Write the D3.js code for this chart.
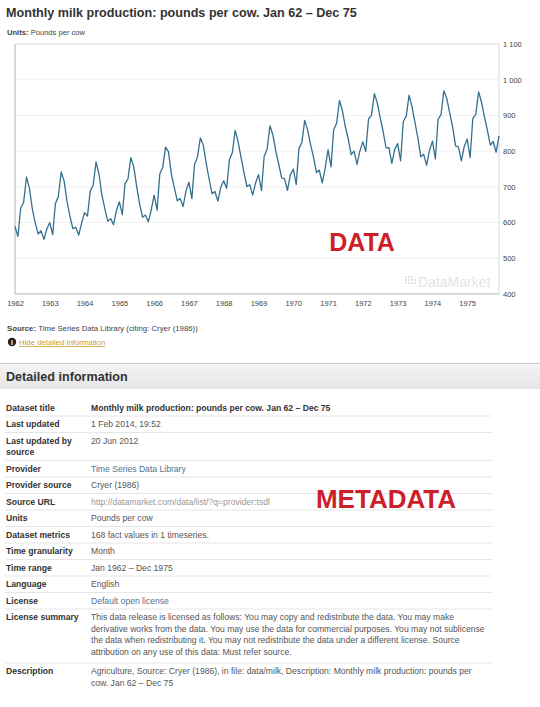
<!DOCTYPE html>
<html>
<head>
<meta charset="utf-8">
<script src="https://cdn.jsdelivr.net/npm/d3@7"></script>
<style>
  html, body { margin: 0; padding: 0; background: #fff; }
  svg { display: block; font-family: "Liberation Sans", Arial, sans-serif; }
</style>
</head>
<body>
<div id="chart"></div>
<script>
// monthly milk production, pounds per cow, Jan 1962 - Dec 1975
const years = d3.range(1962, 1976);
const milk = [
  589, 561, 640, 656, 727, 697, 640, 599, 568, 577, 553, 582,
  600, 566, 653, 673, 742, 716, 660, 617, 583, 587, 565, 598,
  628, 618, 688, 705, 770, 736, 678, 639, 604, 611, 594, 634,
  658, 622, 709, 722, 782, 756, 702, 653, 615, 621, 602, 635,
  677, 635, 736, 755, 811, 798, 735, 697, 661, 667, 645, 688,
  713, 667, 762, 784, 837, 817, 767, 722, 681, 687, 660, 698,
  717, 696, 775, 796, 858, 826, 783, 740, 701, 706, 677, 711,
  734, 690, 785, 805, 871, 845, 801, 764, 725, 723, 690, 734,
  750, 707, 807, 824, 886, 859, 819, 783, 740, 747, 711, 751,
  804, 756, 860, 878, 942, 913, 869, 834, 790, 800, 763, 800,
  826, 799, 890, 900, 961, 935, 894, 855, 809, 810, 766, 805,
  821, 773, 883, 898, 957, 924, 881, 837, 784, 791, 760, 802,
  828, 778, 889, 902, 969, 947, 908, 867, 815, 812, 773, 813,
  834, 782, 892, 903, 966, 937, 896, 858, 817, 827, 797, 843
];
const yTicks = [400, 500, 600, 700, 800, 900, 1000, 1100];

const titleText = 'Monthly milk production: pounds per cow. Jan 62 \u2013 Dec 75';
const sourceText = 'Time Series Data Library (citing: Cryer (1986))';

// metadata table: label lines, value lines, value style
const metaLabels = [
  ['Dataset title'], ['Last updated'], ['Last updated by', 'source'], ['Provider'],
  ['Provider source'], ['Source URL'], ['Units'], ['Dataset metrics'],
  ['Time granularity'], ['Time range'], ['Language'], ['License'],
  ['License summary'], ['Description']
];
const metaValues = [
  [titleText],
  ['1 Feb 2014, 19:52'],
  ['20 Jun 2012'],
  ['Time Series Data Library'],
  ['Cryer (1986)'],
  ['http://datamarket.com/data/list/?q=provider:tsdl'],
  ['Pounds per cow'],
  ['168 fact values in 1 timeseries.'],
  ['Month'],
  ['Jan 1962 \u2013 Dec 1975'],
  ['English'],
  ['Default open license'],
  ['This data release is licensed as follows: You may copy and redistribute the data. You may make',
   'derivative works from the data. You may use the data for commercial purposes. You may not sublicense',
   'the data when redistributing it. You may not redistribute the data under a different license. Source',
   'attribution on any use of this data: Must refer source.'],
  ['Agriculture, Source: Cryer (1986), in file: data/milk, Description: Monthly milk production: pounds per',
   'cow. Jan 62 \u2013 Dec 75']
];
const metaStyles = ['title', 'plain', 'plain', 'link', 'plain', 'url', 'plain', 'plain',
  'plain', 'plain', 'plain', 'link', 'plain', 'plain'];

const W = 540, H = 707;
const plot = { left: 15, right: 499, top: 44, bottom: 294 };

const svg = d3.select('#chart').append('svg')
  .attr('width', W)
  .attr('height', H);

const defs = svg.append('defs');
const grad = defs.append('linearGradient')
  .attr('id', 'hdr')
  .attr('x1', 0).attr('x2', 0).attr('y1', 0).attr('y2', 1);
grad.append('stop').attr('offset', '0%').attr('stop-color', '#f4f4f4');
grad.append('stop').attr('offset', '100%').attr('stop-color', '#e6e6e6');

// header texts
svg.append('text')
  .attr('x', 6).attr('y', 17)
  .attr('font-size', 12.6).attr('font-weight', 'bold').attr('fill', '#333')
  .text(titleText);

const units = svg.append('text')
  .attr('x', 7).attr('y', 35)
  .attr('font-size', 7.6).attr('fill', '#444');
units.append('tspan').attr('font-weight', 'bold').text('Units: ');
units.append('tspan').text('Pounds per cow');

// scales
const dates = milk.map((v, i) => new Date(1962, i, 1));
const x = d3.scaleTime()
  .domain(d3.extent(dates))
  .range([plot.left, plot.right]);
const y = d3.scaleLinear()
  .domain([400, 1100])
  .range([plot.bottom, plot.top]);

const fmt = d3.formatLocale({ decimal: '.', thousands: ' ', grouping: [3], currency: ['', ''] }).format(',');

// grid
svg.append('g')
  .selectAll('line')
  .data(yTicks.slice(1, -1))
  .join('line')
  .attr('x1', plot.left).attr('x2', plot.right)
  .attr('y1', d => y(d)).attr('y2', d => y(d))
  .attr('stroke', '#f1f1f1');

// frame
svg.append('rect')
  .attr('x', plot.left).attr('y', plot.top)
  .attr('width', plot.right - plot.left).attr('height', plot.bottom - plot.top)
  .attr('fill', 'none').attr('stroke', '#d8d8d8');
svg.append('line')
  .attr('x1', plot.left).attr('x2', plot.left)
  .attr('y1', plot.top).attr('y2', plot.bottom)
  .attr('stroke', '#c4c4c4');
svg.append('line')
  .attr('x1', plot.left).attr('x2', plot.right)
  .attr('y1', plot.bottom).attr('y2', plot.bottom)
  .attr('stroke', '#c4c4c4');

// watermark
const wm = svg.append('g').attr('fill', '#e4e4e4');
wm.append('text')
  .attr('x', 418).attr('y', 287)
  .attr('font-size', 14)
  .text('DataMarket');
[[405, 276], [408, 276], [411, 276], [405, 279], [408, 279], [411, 279], [414, 279],
 [405, 282], [408, 282], [411, 282], [414, 282]]
  .forEach(p => wm.append('rect').attr('x', p[0]).attr('y', p[1]).attr('width', 2).attr('height', 2));

// axes
const yAxis = d3.axisRight(y)
  .tickValues(yTicks)
  .tickSize(0)
  .tickPadding(4)
  .tickFormat(fmt);
svg.append('g')
  .attr('transform', `translate(${plot.right},0)`)
  .call(yAxis)
  .call(g => g.select('.domain').remove())
  .selectAll('text')
  .attr('font-size', 7.5)
  .attr('font-family', '"Liberation Sans", Arial, sans-serif')
  .attr('fill', '#444');

const xAxis = d3.axisBottom(x)
  .tickValues(years.map(yr => new Date(yr, 0, 1)))
  .tickSize(0)
  .tickPadding(7)
  .tickFormat(d3.timeFormat('%Y'));
svg.append('g')
  .attr('transform', `translate(0,${plot.bottom})`)
  .call(xAxis)
  .call(g => g.select('.domain').remove())
  .selectAll('text')
  .attr('font-size', 7.5)
  .attr('font-family', '"Liberation Sans", Arial, sans-serif')
  .attr('fill', '#444');

// series
const line = d3.line()
  .x((d, i) => x(dates[i]))
  .y(d => y(d));
svg.append('path')
  .datum(milk)
  .attr('d', line)
  .attr('fill', 'none')
  .attr('stroke', '#33708f')
  .attr('stroke-width', 1.3)
  .attr('stroke-linejoin', 'round');

svg.append('text')
  .attr('x', 362).attr('y', 251)
  .attr('text-anchor', 'middle')
  .attr('font-size', 25).attr('font-weight', 'bold').attr('fill', '#cc1f2a')
  .text('DATA');

// source + link
const src = svg.append('text')
  .attr('x', 7).attr('y', 331)
  .attr('font-size', 7.8).attr('fill', '#444');
src.append('tspan').attr('font-weight', 'bold').text('Source: ');
src.append('tspan').text(sourceText);

svg.append('circle').attr('cx', 12).attr('cy', 342).attr('r', 4.2).attr('fill', '#222');
svg.append('text')
  .attr('x', 12).attr('y', 345.2)
  .attr('text-anchor', 'middle')
  .attr('font-size', 7).attr('font-weight', 'bold').attr('fill', '#fff')
  .text('i');
svg.append('text')
  .attr('x', 19).attr('y', 345)
  .attr('font-size', 7.8).attr('fill', '#d09a30')
  .attr('text-decoration', 'underline')
  .text('Hide detailed information');

// detailed information header bar
svg.append('rect')
  .attr('x', 0).attr('y', 363)
  .attr('width', W).attr('height', 26)
  .attr('fill', 'url(#hdr)');
svg.append('line')
  .attr('x1', 0).attr('x2', W)
  .attr('y1', 363.5).attr('y2', 363.5)
  .attr('stroke', '#c8c8c8');
svg.append('text')
  .attr('x', 6).attr('y', 381)
  .attr('font-size', 12.6).attr('font-weight', 'bold').attr('fill', '#333')
  .text('Detailed information');

// metadata table
const lineH = 11.5;
const valueColor = { title: '#333', plain: '#555', link: '#4d7395', url: '#999' };
let rowTop = 399.5;
const table = svg.append('g').attr('font-size', 8.6);
metaLabels.forEach((lab, i) => {
  const vals = metaValues[i];
  const n = Math.max(lab.length, vals.length);
  const g = table.append('g');
  lab.forEach((t, k) => {
    g.append('text')
      .attr('x', 6).attr('y', rowTop + 11.3 + k * lineH)
      .attr('font-weight', 'bold').attr('fill', '#333')
      .text(t);
  });
  vals.forEach((t, k) => {
    g.append('text')
      .attr('x', 91).attr('y', rowTop + 11.3 + k * lineH)
      .attr('font-weight', metaStyles[i] === 'title' ? 'bold' : 'normal')
      .attr('fill', valueColor[metaStyles[i]])
      .text(t);
  });
  const h = n * lineH + 5 + (n > 2 ? 3 : 0);
  rowTop += h;
  if (i < metaLabels.length - 1) {
    table.append('line')
      .attr('x1', 5).attr('x2', 492)
      .attr('y1', rowTop).attr('y2', rowTop)
      .attr('stroke', '#e6e6e6');
  }
});

svg.append('text')
  .attr('x', 386).attr('y', 508)
  .attr('text-anchor', 'middle')
  .attr('font-size', 26).attr('font-weight', 'bold').attr('fill', '#cc1f2a')
  .text('METADATA');
</script>
</body>
</html>
